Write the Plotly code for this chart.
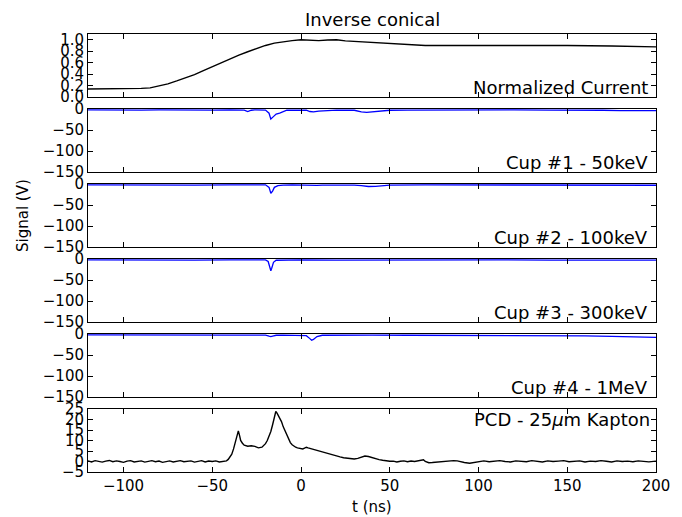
import plotly.graph_objects as go

# ---------------- data ----------------
t_cur = [-120, -110, -100, -95, -90, -85, -80, -75, -70, -65, -60, -55, -50, -45, -40, -35, -30, -25, -20, -15,
         -10, -5, 0, 3, 6, 10, 15, 20, 25, 30, 40, 50, 60, 70, 80, 100, 125, 150, 175, 200]
cur = [0.14, 0.14, 0.145, 0.145, 0.15, 0.16, 0.19, 0.23, 0.28, 0.33, 0.39, 0.46, 0.53, 0.59, 0.66, 0.73, 0.79,
       0.85, 0.9, 0.94, 0.965, 0.985, 1.0, 0.995, 0.985, 0.985, 0.995, 1.0, 0.98, 0.97, 0.96, 0.94, 0.915, 0.9,
       0.9, 0.9, 0.905, 0.9, 0.89, 0.875]

t_c1 = [-120, -110, -100, -90, -80, -70, -60, -50, -40, -32, -30, -28, -26, -20, -18, -17, -16, -14, -12, -10,
        -8, -5, 0, 3, 5, 7, 10, 15, 20, 30, 34, 37, 40, 45, 50, 60, 80, 100, 120, 140, 160, 170, 180, 190, 200]
c1 = [-2, -2.5, -2, -2.5, -2, -2.5, -2, -2.5, -2, -2.5, -6, -3, -2, -2.5, -10, -24, -20, -12, -10, -6,
      -3, -2.5, -3, -3, -6, -7, -5, -3, -2.5, -3, -7, -8, -7, -5, -3, -2.5, -2, -2.5, -2, -2.5, -2, -3, -4, -4.5, -4]

t_c2 = [-120, -100, -80, -60, -40, -25, -20, -18, -17, -16, -15, -13, -10, -5, 0, 3, 6, 9, 12, 20, 30, 34,
        38, 42, 46, 50, 70, 100, 130, 160, 180, 190, 200]
c2 = [-2, -2.5, -2, -2.5, -2, -2.5, -2, -8, -22, -17, -8, -4, -2.5, -2, -2.5, -3, -4, -3.5, -2.5, -2, -2.5, -4,
      -6, -5.5, -4, -2.5, -2, -2.5, -2, -2.5, -3, -3.5, -3]

t_c3 = [-120, -100, -80, -60, -40, -25, -20, -18.5, -17.5, -17, -16.5, -15.5, -14, -10, 0, 20, 50, 80, 110,
        140, 170, 200]
c3 = [-2, -2.5, -2, -2.5, -2, -2.5, -2, -6, -20, -28, -22, -8, -3, -2.5, -2, -2.5, -2, -2.5, -2, -2.5, -2, -2.5]

t_c4 = [-120, -100, -80, -60, -40, -25, -20, -18, -17, -16, -14, -10, 0, 3, 5, 6, 7, 9, 12, 20, 40, 60, 80, 100,
        120, 140, 160, 175, 190, 200]
c4 = [-2, -2.5, -2, -2.5, -2.5, -2.5, -2.5, -5, -6, -5, -3, -2.5, -2.5, -4, -11, -15, -13, -6, -3, -2.5, -2.5,
      -3, -3, -3.5, -3.5, -4, -4.5, -5.5, -7, -8]

t_pcd = [-120, -118, -116, -114, -112, -110, -108, -106, -104, -102, -100, -98, -96, -94, -92, -90, -88, -86,
         -84, -82, -80, -78, -76, -74, -72, -70, -68, -66, -64, -62, -60, -58, -56, -54, -52, -50, -48, -46,
         -44, -42, -41, -40, -39, -38, -37, -36, -35.3, -34.5, -34, -33, -32, -30, -28, -26, -24, -22, -20,
         -19, -18, -17, -16, -15, -14.2, -13.5, -12, -11, -10, -9, -8, -7, -6, -5, -4, -3, -2, -1, 0, 1, 2,
         3, 4, 6, 8, 10, 12, 14, 16, 18, 20, 22, 24, 26, 28, 30, 32, 34, 36, 38, 40, 42, 44, 46, 48, 50, 52,
         54, 56, 58, 60, 62, 64, 66, 68, 69, 70, 72, 74, 76, 78, 80, 82, 84, 86, 88, 90, 92, 95, 98, 100,
         103, 106, 109, 112, 115, 118, 121, 124, 127, 130, 133, 136, 139, 142, 145, 148, 151, 154, 157, 160,
         163, 166, 169, 172, 175, 178, 181, 184, 187, 190, 193, 196, 200]
pcd = [0.3, -0.2, 0.4, 0.1, -0.3, 0.2, 0.5, -0.1, 0.3, 0.0, -0.4, 0.2, 0.4, -0.2, 0.1, 0.3, -0.3, 0.0, 0.4,
       -0.1, 0.2, -0.4, 0.1, 0.3, -0.2, 0.2, 0.4, -0.1, 0.0, 0.3, -0.3, 0.1, 0.4, -0.2, 0.2, 0.0, 0.3, -0.2,
       0.1, 0.3, 1.0, 2.0, 3.5, 6.0, 9.5, 12.5, 14.6, 12.0, 10.0, 8.7, 7.8, 7.3, 7.5, 7.2, 6.5, 6.8, 8.5,
       10.0, 12.0, 14.3, 17.5, 21.0, 23.8, 23.0, 20.5, 19.0, 16.5, 14.5, 12.5, 10.5, 9.0, 8.0, 7.2, 6.8, 6.5,
       6.4, 6.2, 6.0, 6.4, 6.8, 6.5, 6.0, 5.4, 5.0, 4.6, 4.2, 3.6, 3.0, 2.6, 2.2, 1.8, 1.7, 1.3, 1.2, 1.5,
       2.2, 2.6, 2.4, 1.8, 1.2, 0.9, 0.6, 0.3, 0.1, 0.2, -0.2, 0.1, 0.3, -0.1, 0.2, 0.0, 0.3, 0.9, 0.8, 0.0,
       -0.6, -0.5, -0.3, -0.2, 0.1, 0.0, 0.2, 0.4, 0.3, -0.2, -0.5, -0.8, -0.4, 0.0, 0.3, -0.1, 0.2, 0.4,
       0.0, -0.2, 0.3, 0.1, -0.1, 0.4, 0.2, -0.2, 0.3, 0.0, 0.2, 0.4, -0.1, 0.1, 0.3, -0.2, 0.2, 0.0, 0.4,
       0.1, -0.2, 0.3, 0.0, 0.2, -0.1, 0.3, 0.1, -0.2, 0.2]

panel_labels = ["Normalized Current", "Cup #1 - 50keV", "Cup #2 - 100keV", "Cup #3 - 300keV",
                "Cup #4 - 1MeV", "PCD - 25<i>μ</i>m Kapton"]
x_ticks = [-100, -50, 0, 50, 100, 150, 200]
cur_ticks = [0.0, 0.2, 0.4, 0.6, 0.8, 1.0]
cup_ticks = [0, -50, -100, -150]
pcd_ticks = [-5, 0, 5, 10, 15, 20, 25]

# ---------------- layout ----------------
W, H = 682, 517
ML, MR, MT, MB = 88, 26, 34, 45
PH = H - MT - MB
panel_h, pitch = 63, 75
FONT = "DejaVu Sans"
TICK = 15
LAB = 18

fig = go.Figure()
series = [(t_cur, cur, "black", 1.4), (t_c1, c1, "blue", 1.3), (t_c2, c2, "blue", 1.3),
          (t_c3, c3, "blue", 1.3), (t_c4, c4, "blue", 1.3), (t_pcd, pcd, "black", 1.4)]

annotations = []
for i, (tx, ty, col, lw) in enumerate(series):
    n = "" if i == 0 else str(i + 1)
    fig.add_trace(go.Scatter(x=tx, y=ty, mode="lines", line=dict(color=col, width=lw),
                             xaxis="x" + n, yaxis="y" + n, showlegend=False, hoverinfo="skip"))
    top = 1 - pitch * i / PH
    bot = top - panel_h / PH
    xa = dict(domain=[0, 1], range=[-120, 200], anchor="y" + n, tickvals=x_ticks,
              ticktext=[str(v).replace("-", "−") for v in x_ticks],
              ticks="inside", ticklen=5, tickcolor="black", showline=True, linecolor="black",
              linewidth=1, mirror="ticks", showgrid=False, zeroline=False,
              showticklabels=(i == 5), tickfont=dict(family=FONT, size=TICK, color="black"))
    if i > 0:
        xa["matches"] = "x"
    if i == 0:
        yr, yt = [0, 1.1], cur_ticks
        ytxt = ["0.0", "0.2", "0.4", "0.6", "0.8", "1.0"]
    elif i < 5:
        yr, yt = [-150, 0], cup_ticks
        ytxt = [str(v).replace("-", "−") for v in cup_ticks]
    else:
        yr, yt = [-5, 25], pcd_ticks
        ytxt = [str(v).replace("-", "−") for v in pcd_ticks]
    ya = dict(domain=[bot, top], range=yr, anchor="x" + n, tickvals=yt, ticktext=ytxt,
              ticks="inside", ticklen=5, tickcolor="black", showline=True, linecolor="black",
              linewidth=1, mirror="ticks", showgrid=False, zeroline=False,
              tickfont=dict(family=FONT, size=TICK, color="black"))
    fig.layout["xaxis" + n] = xa
    fig.layout["yaxis" + n] = ya
    if i < 5:
        annotations.append(dict(text=panel_labels[i], xref="paper", yref="paper", x=1, y=bot,
                                xanchor="right", yanchor="bottom", xshift=-6, yshift=-3, showarrow=False,
                                font=dict(family=FONT, size=LAB, color="black")))
    else:
        annotations.append(dict(text=panel_labels[i], xref="paper", yref="paper", x=1, y=top,
                                xanchor="right", yanchor="top", xshift=-4, yshift=2, showarrow=False,
                                font=dict(family=FONT, size=LAB, color="black")))

annotations.append(dict(text="Signal (V)", xref="paper", yref="paper", x=-(ML - 23) / (W - ML - MR),
                        y=1 - (216 - MT) / PH, xanchor="center", yanchor="middle", textangle=-90,
                        showarrow=False, font=dict(family=FONT, size=15, color="black")))
annotations.append(dict(text="t (ns)", xref="paper", yref="paper", x=0.5, y=-(507 - (H - MB)) / PH,
                        xanchor="center", yanchor="middle", showarrow=False,
                        font=dict(family=FONT, size=15, color="black")))
annotations.append(dict(text="Inverse conical", xref="paper", yref="paper", x=0.5, y=1 + (MT - 20) / PH,
                        xanchor="center", yanchor="middle", showarrow=False,
                        font=dict(family=FONT, size=18, color="black")))

fig.update_layout(width=W, height=H, margin=dict(l=ML, r=MR, t=MT, b=MB),
                  paper_bgcolor="white", plot_bgcolor="white", annotations=annotations)

fig.write_html("out.html")
